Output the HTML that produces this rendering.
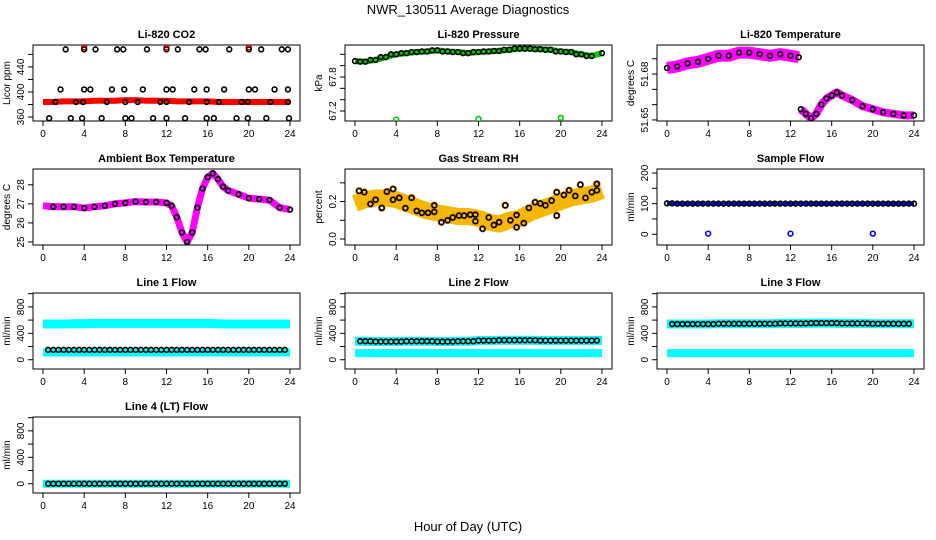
<!DOCTYPE html>
<html><head><meta charset="utf-8">
<style>
html,body{margin:0;padding:0;background:#fff;}
svg{display:block;font-family:"Liberation Sans",sans-serif;}
</style></head>
<body>
<svg id="chart" width="936" height="540" viewBox="0 0 936 540" xmlns="http://www.w3.org/2000/svg">
<text x="468" y="14" text-anchor="middle" font-size="13">NWR_130511  Average Diagnostics</text>
<text x="468" y="531" text-anchor="middle" font-size="13">Hour of Day (UTC)</text>
</svg>
<script>
// ---- data ----
const xTicks = [0,4,8,12,16,20,24];
const hourly = [0,1,2,3,4,5,6,7,8,9,10,11,12,13,14,15,16,17,18,19,20,21,22,23,24];
// CO2
const co2Red = [384,384,385,385,385,386,386,386,387,387,386,386,386,385,385,385,385,384,384,384,384,384,384,384,384];
const co2SpikeHours = [4,12,20];
const co2SpikeVals = [471,471,471];
const co2BlkHours = [2.2,4.0,5.1,7.2,7.8,10.1,12.0,13.1,15.2,15.8,18.1,20.0,21.2,23.2,23.8,
 1.7,4.0,4.6,6.7,7.9,9.7,12.0,12.6,14.7,15.9,17.6,20.0,20.6,22.5,23.8,
 1.2,3.2,3.9,6.2,8.0,9.2,11.4,12.0,14.2,15.9,17.1,19.3,19.9,22.1,23.8,
 0.6,2.7,3.8,5.7,8.0,8.6,10.7,12.0,13.8,15.9,16.6,18.8,19.9,21.7,23.9];
const co2BlkVals = [468,468,468,468,468,468,468,468,468,468,468,468,468,468,468,
 404,404,404,404,404,404,404,404,404,404,404,404,404,404,404,
 384,384,384,384,384,384,384,384,384,384,384,384,384,384,384,
 358,358,358,358,358,358,358,358,358,358,358,358,358,358,358];
// Pressure
const pressVals = [68.08,68.07,68.10,68.15,68.20,68.22,68.24,68.25,68.27,68.25,68.24,68.22,68.24,68.25,68.26,68.28,68.30,68.30,68.29,68.28,68.25,68.24,68.20,68.17,68.22];
const pressOutHours = [4,12,20];
const pressOutVals = [67.05,67.06,67.08];
// Li-820 temperature (two segments)
const ltHours1 = [0,1,2,3,4,5,6,7,8,9,10,11,12,12.8];
const ltVals1 = [51.684,51.685,51.687,51.688,51.690,51.692,51.692,51.694,51.694,51.693,51.692,51.693,51.692,51.691];
const ltHours2 = [13,13.5,14,14.5,15,15.5,16,16.5,17,18,19,20,21,22,23,24];
const ltVals2 = [51.657,51.654,51.651,51.654,51.660,51.664,51.666,51.668,51.666,51.663,51.659,51.657,51.655,51.654,51.653,51.653];
// Ambient box temperature
const ambHours = [0,1,2,3,4,5,6,7,8,9,10,11,12,12.5,13,13.5,14,14.5,15,15.5,16,16.5,17,17.5,18,19,20,21,22,23,24];
const ambVals = [26.9,26.85,26.85,26.85,26.78,26.85,26.9,27.0,27.05,27.12,27.1,27.1,27.05,26.9,26.3,25.5,25.0,25.5,26.8,27.8,28.4,28.6,28.3,27.9,27.7,27.5,27.3,27.25,27.2,26.8,26.7];
// Gas stream RH
const rhBand = [0.19,0.21,0.22,0.22,0.21,0.19,0.17,0.15,0.14,0.13,0.12,0.12,0.11,0.09,0.08,0.10,0.11,0.14,0.16,0.18,0.20,0.22,0.23,0.24,0.26];
const rhBlkHours = [0.4,0.9,1.5,2.0,2.6,3.1,3.7,3.7,4.3,4.9,5.5,6.0,6.5,7.1,7.7,7.7,8.4,9.0,9.5,10.1,10.6,11.2,11.7,11.7,12.4,13.0,13.5,14.0,14.6,15.1,15.7,15.7,16.4,16.9,17.5,18.0,18.5,19.1,19.6,19.6,20.3,20.8,21.4,21.9,22.4,23.0,23.5,23.5];
const rhBlkVals = [0.257,0.25,0.187,0.21,0.166,0.253,0.267,0.21,0.22,0.165,0.22,0.15,0.14,0.14,0.145,0.18,0.09,0.10,0.115,0.125,0.125,0.13,0.095,0.13,0.055,0.115,0.075,0.09,0.18,0.10,0.063,0.128,0.085,0.166,0.196,0.19,0.18,0.205,0.25,0.125,0.235,0.26,0.23,0.29,0.22,0.25,0.294,0.26];
// Sample flow
const sampleFlow = [101,100,100,100,100,100,100,100,100,100,100,100,100,100,100,100,100,100,100,100,100,100,100,100,100];
const sampleOutHours = [4,12,20];
const sampleOutVals = [2,2,2];
// Line flows
const l1CyanHi = [540,540,540,545,545,550,550,550,550,550,550,550,550,550,550,550,550,545,540,540,540,540,540,540,540];
const l1CyanLo = [110,110,110,110,110,110,110,110,110,110,110,110,110,110,110,110,110,110,110,110,110,110,110,110,110];
const l1Black = [150,150,150,150,150,150,150,150,150,150,150,150,150,150,150,150,150,150,150,150,150,150,150,150,150];
const l2CyanHi = [280,280,275,275,275,280,280,280,275,275,280,280,290,290,295,295,295,295,290,290,290,290,290,290,295];
const l2CyanLo = [100,100,100,100,100,100,100,100,100,100,100,100,100,100,100,100,100,100,100,100,100,100,100,100,100];
const l2Black = [280,280,275,275,275,280,280,280,275,275,280,280,290,290,295,295,295,295,290,290,290,290,290,290,295];
const l3CyanHi = [540,540,540,540,540,545,545,545,545,545,545,550,550,550,555,555,555,550,550,550,545,545,545,545,545];
const l3CyanLo = [100,100,100,100,100,100,100,100,100,100,100,100,100,100,100,100,100,100,100,100,100,100,100,100,100];
const l3Black = [540,540,540,540,540,545,545,545,545,545,545,550,550,550,555,555,555,550,550,550,545,545,545,545,545];
const l4Cyan = [0,0,0,0,0,0,0,0,0,0,0,0,0,0,0,0,0,0,0,0,0,0,0,0,0];
const l4Black = [0,0,0,0,0,0,0,0,0,0,0,0,0,0,0,0,0,0,0,0,0,0,0,0,0];
const flowTicks = [0,200,400,600,800,1000];
const flowLabels = ['0','','400','','800',''];

// ---- rendering ----
const NS='http://www.w3.org/2000/svg';
const svg=document.getElementById('chart');
function mk(tag,attrs,parent){const e=document.createElementNS(NS,tag);for(const k in attrs)e.setAttribute(k,attrs[k]);(parent||svg).appendChild(e);return e;}

function panel(col,row,title,ylab,yTop,yBot,ticks,labels,slug){
  const g=mk('g',{});
  
  
  const L=col*312+33,R=col*312+300,T=45+124*row,B=T+76;
  const x=h=>col*312+43+h/24*247;
  const y=v=>T+(yTop-v)/(yTop-yBot)*(B-T);
  const t=mk('text',{x:(L+R)/2,y:T-7,'text-anchor':'middle','font-size':11,'font-weight':'bold'},g);t.textContent=title;
  
  
  const yl=mk('text',{x:0,y:0,transform:`translate(${col*312+10},${(T+B)/2}) rotate(-90)`,'text-anchor':'middle','font-size':10},g);yl.textContent=ylab;
  
  
  const box=mk('rect',{x:L,y:T,width:R-L,height:B-T,fill:'none',stroke:'#000','stroke-width':1},g);
  
  
  xTicks.forEach(h=>{
    mk('line',{x1:x(h),x2:x(h),y1:B,y2:B+5,stroke:'#000'},g);
    const tl=mk('text',{x:x(h),y:B+16,'text-anchor':'middle','font-size':10},g);tl.textContent=h;
    
    
  });
  mk('line',{x1:x(0),x2:x(24),y1:B,y2:B,stroke:'#000'},g);
  ticks.forEach((v,i)=>{
    mk('line',{x1:L-5,x2:L,y1:y(v),y2:y(v),stroke:'#000'},g);
    if(labels[i]){const tl=mk('text',{x:0,y:0,transform:`translate(${L-9},${y(v)}) rotate(-90)`,'text-anchor':'middle','font-size':10},g);tl.textContent=labels[i];
      
      }
  });
  const defs=mk('clipPath',{id:'c'+slug},g);mk('rect',{x:L,y:T,width:R-L,height:B-T},defs);
  const pg=mk('g',{'clip-path':`url(#c${slug})`},g);
  return {x,y,g:pg};
}
function band(p,hs,vs,color,w,name){
  const pts=hs.map((h,i)=>p.x(h)+','+p.y(vs[i])).join(' ');
  const e=mk('polyline',{points:pts,fill:'none',stroke:color,'stroke-width':w,'stroke-linejoin':'round','stroke-linecap':'butt'},p.g);
  
  
}
function dots(p,hs,vs,color,name,r){
  hs.forEach((h,i)=>{
    const c=mk('circle',{cx:p.x(h),cy:p.y(vs[i]),r:r||2.4,fill:'none',stroke:color,'stroke-width':1.6},p.g);
    
    
  });
}
const halfHrs=hourly.slice(0,24).map(h=>h+0.5);
const blkAt=(arr)=>halfHrs.map((h,i)=>arr[i]);

// CO2
let p=panel(0,0,'Li-820 CO2','Licor ppm',475,353.6,[360,380,400,420,440,460],['360','','400','','440',''],'co2');
band(p,hourly,co2Red,'#ff0000',6,'co2-red-series');
dots(p,co2SpikeHours,co2SpikeVals,'#ff0000','co2-red-spike');
dots(p,co2BlkHours,co2BlkVals,'#000','co2-black-point');
// Pressure
p=panel(1,0,'Li-820 Pressure','kPa',68.364,67.024,[67.2,67.4,67.6,67.8,68.0,68.2],['67.2','','','67.8','',''],'pressure');
band(p,hourly,pressVals,'#00cc00',6,'pressure-green-series');
dots(p,pressOutHours,pressOutVals,'#00cc00','pressure-outlier');
dots(p,hourly,pressVals,'#000','pressure-black-point');
dots(p,halfHrs.slice(0,23),hourly.slice(0,23).map((h,i)=>pressVals[i+1]),'#000','pressure-black-point');
// Li temp
p=panel(2,0,'Li-820 Temperature','degrees C',51.699,51.6493,[51.65,51.66,51.67,51.68,51.69],['51.65','','','51.68',''],'li-temp');
band(p,ltHours1,ltVals1,'#ff00ff',12,'li-temp-magenta-series');
band(p,ltHours2,ltVals2,'#ff00ff',8,'li-temp-magenta-series');
dots(p,ltHours1,ltVals1,'#000','li-temp-black-point');
dots(p,ltHours2,ltVals2,'#000','li-temp-black-point');
// Ambient
p=panel(0,1,'Ambient Box Temperature','degrees C',28.83,24.84,[25,26,27,28],['25','26','27','28'],'ambient');
band(p,ambHours,ambVals,'#ff00ff',7,'ambient-magenta-series');
dots(p,ambHours.slice(1),ambVals.slice(1),'#000','ambient-black-point');
// RH
p=panel(1,1,'Gas Stream RH','percent',0.374,-0.032,[0,0.1,0.2,0.3],['0.0','','0.2',''],'rh');
band(p,hourly,rhBand,'#f5b800',17,'rh-orange-band');
dots(p,rhBlkHours,rhBlkVals,'#e08000','rh-orange-point',3);
dots(p,rhBlkHours,rhBlkVals,'#000','rh-black-point');
// Sample flow
p=panel(2,1,'Sample Flow','ml/min',213,-35,[0,50,100,150,200],['0','','100','','200'],'sample-flow');
band(p,hourly,sampleFlow,'#0000ff',4,'sample-flow-blue-series');
dots(p,sampleOutHours,sampleOutVals,'#0000ff','sample-flow-outlier');
dots(p,halfHrs,blkAt(sampleFlow),'#000','sample-flow-black-point');
dots(p,hourly,sampleFlow,'#000','sample-flow-black-point');
// Line flows
function flowPanel(col,row,title,slug,hi,lo,blk){
  const q=panel(col,row,title,'ml/min',1010,-140,flowTicks,flowLabels,slug);
  if(hi){band(q,hourly,hi,'#00ffff',9,slug+'-cyan-high');}
  band(q,hourly,lo,'#00ffff',8,slug+'-cyan-low');
  dots(q,halfHrs,blkAt(blk),'#000',slug+'-black-point');
  dots(q,hourly.slice(1,24),blk.slice(1,24),'#000',slug+'-black-point');
  return q;
}
flowPanel(0,2,'Line 1 Flow','line1-flow',l1CyanHi,l1CyanLo,l1Black);
flowPanel(1,2,'Line 2 Flow','line2-flow',l2CyanHi,l2CyanLo,l2Black);
flowPanel(2,2,'Line 3 Flow','line3-flow',l3CyanHi,l3CyanLo,l3Black);
flowPanel(0,3,'Line 4 (LT) Flow','line4-flow',null,l4Cyan,l4Black);
</script>
</body></html>
